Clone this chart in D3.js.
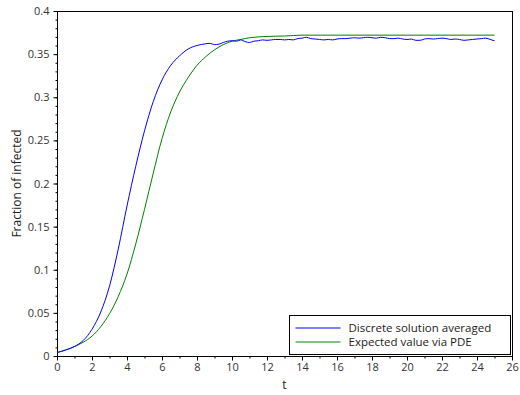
<!DOCTYPE html>
<html>
<head>
<meta charset="utf-8">
<script src="https://cdn.jsdelivr.net/npm/d3@7"></script>
<style>
  body { margin: 0; background: #fff; }
  svg { display: block; font-family: "Lucida Grande", "Open Sans", "DejaVu Sans", sans-serif; }
</style>
</head>
<body>
<svg id="chart" width="520" height="395"></svg>
<script>
(function () {
    'use strict';

    // discrete solution (averaged over runs)
    const blueT = [0, 0.5, 1, 1.5, 2, 2.5, 3, 3.5, 4, 4.5, 5, 5.5, 6, 6.5, 7, 7.5, 8,
        8.5, 8.75, 9, 9.25, 9.5, 9.75, 10, 10.25, 10.5, 10.75, 11, 11.25, 11.5, 11.75,
        12, 12.25, 12.5, 12.75, 13, 13.25, 13.5, 13.75, 14, 14.25, 14.5, 14.75,
        15, 15.25, 15.5, 15.75, 16, 16.25, 16.5, 16.75, 17, 17.25, 17.5, 17.75,
        18, 18.25, 18.5, 18.75, 19, 19.25, 19.5, 19.75, 20, 20.25, 20.5, 20.75,
        21, 21.25, 21.5, 21.75, 22, 22.25, 22.5, 22.75, 23, 23.25, 23.5, 23.75,
        24, 24.25, 24.5, 24.75, 25];
    const blueV = [0.004, 0.007, 0.011, 0.018, 0.031, 0.051, 0.081, 0.124, 0.174, 0.220, 0.261, 0.295, 0.320, 0.337, 0.348, 0.356, 0.360,
        0.362, 0.3625, 0.361, 0.3615, 0.3635, 0.365, 0.3655, 0.365, 0.3665, 0.3645, 0.3635, 0.365, 0.3655, 0.3665,
        0.366, 0.3665, 0.367, 0.367, 0.3665, 0.367, 0.3665, 0.368, 0.3685, 0.3695, 0.368, 0.3675,
        0.367, 0.3665, 0.367, 0.3665, 0.3675, 0.368, 0.368, 0.3685, 0.369, 0.3685, 0.369, 0.3695,
        0.369, 0.3685, 0.3695, 0.369, 0.368, 0.368, 0.3685, 0.3675, 0.367, 0.3675, 0.366, 0.366,
        0.3675, 0.368, 0.3675, 0.368, 0.3685, 0.368, 0.367, 0.3675, 0.367, 0.366, 0.3665, 0.367,
        0.3675, 0.368, 0.3685, 0.367, 0.3655];

    // expected value from the PDE
    const greenT = [0, 0.5, 1, 1.5, 2, 2.5, 3, 3.5, 4, 4.5, 5, 5.5, 6, 6.5, 7, 7.5, 8, 8.5, 9, 9.5,
        10, 10.5, 11, 12, 13, 14, 16, 18, 20, 22, 24, 25];
    const greenV = [0.004, 0.007, 0.011, 0.016, 0.023, 0.034, 0.049, 0.069, 0.095, 0.130, 0.170, 0.212, 0.252, 0.283, 0.306, 0.323, 0.337, 0.347, 0.355, 0.361,
        0.365, 0.367, 0.369, 0.3705, 0.371, 0.372, 0.372, 0.372, 0.372, 0.372, 0.372, 0.372];

    const xTicks = [0, 2, 4, 6, 8, 10, 12, 14, 16, 18, 20, 22, 24, 26];
    const yTicks = [0, 0.05, 0.1, 0.15, 0.2, 0.25, 0.3, 0.35, 0.4];
    const legendLabels = ["Discrete solution averaged", "Expected value via PDE"];
    const colors = ["#0000ff", "#008000"];

    const margin = {left: 57, right: 8, top: 11, bottom: 39};
    const width = 520, height = 395;

    const svg = d3.select('#chart');

    const x = d3.scaleLinear().domain([0, 26]).range([margin.left, width - margin.right]);
    const y = d3.scaleLinear().domain([0, 0.4]).range([height - margin.bottom, margin.top]);

    // frame
    svg.append("rect")
        .attr("x", x(0) + 0.5).attr("y", y(0.4) + 0.5)
        .attr("width", x(26) - x(0)).attr("height", y(0) - y(0.4))
        .attr("fill", "none").attr("stroke", "#000");

    // minor ticks
    const xAxisMinor = d3.axisBottom(x).tickValues(d3.range(1, 26, 2)).tickSize(2).tickFormat("");
    const yAxisMinor = d3.axisLeft(y).tickValues(d3.range(0, 0.4001, 0.01)).tickSize(2).tickFormat("");

    const xAxis = d3.axisBottom(x).tickValues(xTicks).tickSize(4).tickPadding(3).tickFormat(d3.format("d"));
    const yAxis = d3.axisLeft(y).tickValues(yTicks).tickSize(4).tickPadding(4).tickFormat(d => d === 0 ? "0" : d3.format("~g")(d));

    const gx = svg.append("g").attr("transform", `translate(0,${y(0) + 0.5})`);
    gx.append("g").call(xAxisMinor);
    gx.append("g").call(xAxis);
    const gy = svg.append("g").attr("transform", `translate(${x(0) + 0.5},0)`);
    gy.append("g").call(yAxisMinor);
    gy.append("g").call(yAxis);

    svg.selectAll(".domain").remove();
    svg.selectAll(".tick line").attr("stroke", "#000");
    svg.selectAll(".tick text")
        .attr("fill", "#333")
        .style("font-size", "11px")
        .style("font-family", "'Lucida Grande', 'Open Sans', 'DejaVu Sans', sans-serif");

    // axis titles
    svg.append("text")
        .attr("x", x(13)).attr("y", 389)
        .attr("text-anchor", "middle")
        .attr("font-size", 12).attr("fill", "#222")
        .text("t");
    svg.append("text")
        .attr("transform", `translate(21,${y(0.2)}) rotate(-90)`)
        .attr("text-anchor", "middle")
        .attr("font-size", 12).attr("fill", "#222")
        .text("Fraction of infected");

    const line = d3.line().x(d => x(d[0])).y(d => y(d[1])).curve(d3.curveMonotoneX);

    svg.append("path")
        .datum(greenT.map((t, i) => [t, greenV[i]]))
        .attr("d", line)
        .attr("fill", "none").attr("stroke", colors[1]).attr("stroke-width", 1);

    svg.append("path")
        .datum(blueT.map((t, i) => [t, blueV[i]]))
        .attr("d", line)
        .attr("fill", "none").attr("stroke", colors[0]).attr("stroke-width", 1);

    // legend
    const legend = svg.append("g").attr("transform", "translate(289.5,315.5)");
    legend.append("rect")
        .attr("width", 221).attr("height", 39)
        .attr("fill", "#fff").attr("stroke", "#000");
    legendLabels.forEach((label, i) => {
        const ly = 12.5 + i * 14;
        legend.append("line")
            .attr("x1", 6).attr("x2", 51).attr("y1", ly).attr("y2", ly)
            .attr("stroke", colors[i]);
        legend.append("text")
            .attr("x", 59).attr("y", ly + 4)
            .attr("font-size", 11.5).attr("fill", "#222")
            .text(label);
    });
}());
</script>
</body>
</html>
